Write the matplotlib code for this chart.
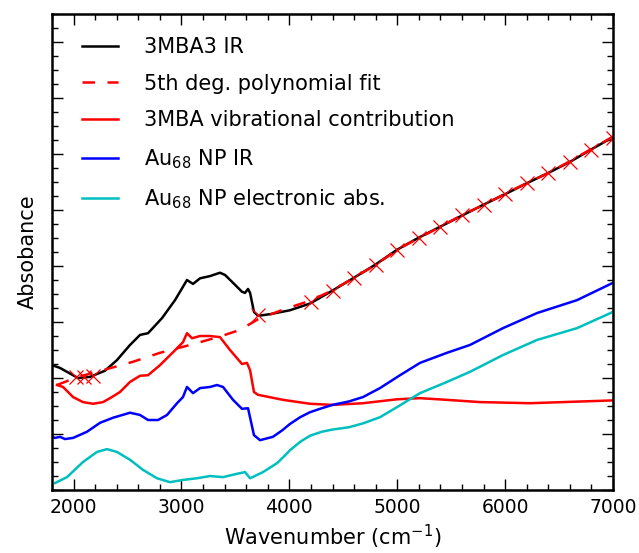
import matplotlib
matplotlib.use("Agg")
import matplotlib.pyplot as plt
from matplotlib.ticker import MultipleLocator, NullFormatter

# 3MBA3 IR (black)
ir_x = [1800, 1874, 1939, 2041, 2152, 2291, 2402, 2523, 2616, 2690, 2820, 2940, 3014, 3051,
        3107, 3172, 3265, 3357, 3404, 3478, 3561, 3589, 3617, 3636, 3672, 3710, 3821, 4006,
        4192, 4390, 4590, 4794, 4998, 5193, 5397, 5610, 5795, 6018, 6203, 6398, 6602, 6815, 7000]
ir_y = [2.23, 2.18, 2.11, 2.00, 2.02, 2.13, 2.32, 2.59, 2.77, 2.80, 3.07, 3.39, 3.63, 3.75,
        3.68, 3.78, 3.82, 3.88, 3.84, 3.70, 3.54, 3.52, 3.59, 3.52, 3.18, 3.11, 3.14, 3.21,
        3.33, 3.55, 3.78, 4.02, 4.29, 4.50, 4.70, 4.91, 5.09, 5.30, 5.48, 5.66, 5.86, 6.10, 6.30]

# 5th deg. polynomial fit (red dashed)
fit_x = [1846, 2041, 2273, 2551, 2801, 3079, 3357, 3543, 3710, 3941, 4192, 4405, 4590, 4800,
         5000, 5200, 5400, 5600, 5800, 6000, 6200, 6400, 6600, 6800, 7000]
fit_y = [1.875, 2.02, 2.14, 2.29, 2.45, 2.59, 2.74, 2.86, 3.05, 3.22, 3.38, 3.57, 3.78, 4.02,
         4.29, 4.50, 4.70, 4.91, 5.09, 5.29, 5.48, 5.66, 5.87, 6.09, 6.31]

# fitted points (red x markers)
pts_x = [2020, 2100, 2180, 3710, 4200, 4400, 4600, 4800, 5000, 5200, 5400, 5600, 5800,
         6000, 6200, 6400, 6600, 6800, 7000]
pts_y = [2.02, 2.01, 2.03, 3.13, 3.36, 3.56, 3.78, 4.02, 4.29, 4.50, 4.70, 4.91, 5.09,
         5.29, 5.48, 5.66, 5.86, 6.08, 6.29]

# 3MBA vibrational contribution (red)
vib_x = [1846, 1902, 1995, 2087, 2180, 2273, 2338, 2430, 2523, 2616, 2690, 2801, 2922, 3014,
         3051, 3098, 3172, 3265, 3357, 3450, 3561, 3607, 3636, 3672, 3710, 3941, 4192, 4400,
         4683, 4998, 5211, 5461, 5767, 6231, 6537, 7000]
vib_y = [1.875, 1.84, 1.66, 1.57, 1.54, 1.57, 1.64, 1.75, 1.93, 2.04, 2.05, 2.23, 2.46, 2.64,
         2.80, 2.71, 2.75, 2.75, 2.73, 2.50, 2.25, 2.27, 2.14, 1.75, 1.70, 1.61, 1.54, 1.52,
         1.55, 1.62, 1.64, 1.61, 1.57, 1.55, 1.57, 1.60]

# Au68 NP IR (blue)
np_x = [1800, 1828, 1874, 1920, 1995, 2124, 2245, 2365, 2523, 2616, 2690, 2783, 2866, 2959,
        3014, 3051, 3107, 3172, 3265, 3329, 3385, 3478, 3561, 3617, 3672, 3728, 3848, 3930,
        4006, 4100, 4192, 4300, 4400, 4550, 4683, 4840, 5026, 5211, 5461, 5674, 5980, 6296,
        6666, 7000]
np_y = [0.95, 0.93, 0.95, 0.91, 0.93, 1.04, 1.20, 1.29, 1.38, 1.34, 1.25, 1.25, 1.34, 1.55,
        1.66, 1.84, 1.73, 1.82, 1.84, 1.875, 1.84, 1.61, 1.45, 1.46, 0.98, 0.89, 0.95, 1.06,
        1.18, 1.30, 1.39, 1.46, 1.52, 1.58, 1.66, 1.82, 2.05, 2.27, 2.45, 2.59, 2.89, 3.16,
        3.39, 3.70]

# Au68 NP electronic abs. (cyan)
el_x = [1828, 1939, 2087, 2217, 2310, 2402, 2523, 2643, 2773, 2894, 3014, 3144, 3265, 3385,
        3515, 3589, 3636, 3756, 3886, 3950, 4006, 4100, 4192, 4300, 4400, 4550, 4683, 4840,
        4998, 5211, 5461, 5674, 5980, 6296, 6666, 7000]
el_y = [0.125, 0.23, 0.50, 0.68, 0.73, 0.68, 0.54, 0.36, 0.21, 0.14, 0.18, 0.21, 0.25, 0.23,
        0.29, 0.32, 0.21, 0.32, 0.48, 0.60, 0.71, 0.86, 0.97, 1.04, 1.08, 1.12, 1.19, 1.30,
        1.48, 1.73, 1.93, 2.11, 2.41, 2.68, 2.89, 3.18]

plt.rcParams['font.family'] = ['DejaVu Sans']
plt.rcParams['mathtext.fontset'] = 'dejavusans'

fig = plt.figure(figsize=(6.39, 5.53), dpi=100)
ax = fig.add_axes([0.0814, 0.1139, 0.8779, 0.8608])

lw = 1.8
ax.plot(ir_x, ir_y, color='black', lw=lw, label='3MBA3 IR')
ax.plot(fit_x, fit_y, color='red', lw=lw, ls=(0, (5, 5)), label='5th deg. polynomial fit')
ax.plot(pts_x, pts_y, ls='none', marker='x', color='red', ms=10, mew=0.9)
ax.plot(vib_x, vib_y, color='red', lw=lw, label='3MBA vibrational contribution')
ax.plot(np_x, np_y, color='blue', lw=lw, label='Au$_{68}$ NP IR')
ax.plot(el_x, el_y, color='c', lw=lw, label='Au$_{68}$ NP electronic abs.')

ax.set_xlim(1800, 7000)
ax.set_ylim(0, 8.5)
ax.xaxis.set_major_locator(MultipleLocator(1000))
ax.xaxis.set_minor_locator(MultipleLocator(200))
ax.yaxis.set_major_locator(MultipleLocator(1))
ax.yaxis.set_minor_locator(MultipleLocator(0.25))
ax.yaxis.set_major_formatter(NullFormatter())
ax.tick_params(which='both', direction='in', top=True, right=True, labelsize=13.5)
ax.tick_params(which='major', length=8, width=1, pad=6)
ax.tick_params(which='minor', length=4, width=1)
for s in ax.spines.values():
    s.set_linewidth(1.8)

ax.set_xlabel('Wavenumber (cm$^{-1}$)', fontsize=15, labelpad=4)
ax.set_ylabel('Absobance', fontsize=15, labelpad=4)

ax.legend(loc='upper left', frameon=False, fontsize=15, handlelength=1.75,
          handletextpad=1.25, labelspacing=0.8, borderaxespad=0.7,
          bbox_to_anchor=(0.012, 1.0))

fig.savefig('out.png', dpi=100)
